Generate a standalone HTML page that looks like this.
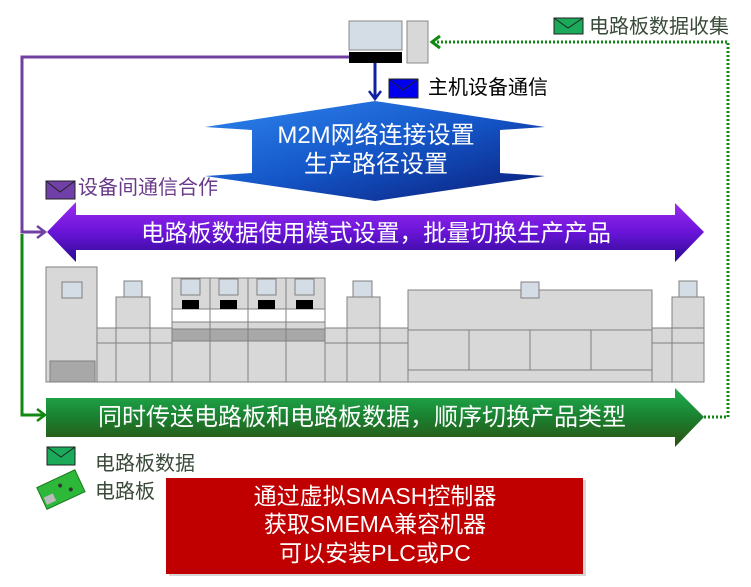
<!DOCTYPE html>
<html><head><meta charset="utf-8"><style>
html,body{margin:0;padding:0;background:#fff;width:751px;height:587px;overflow:hidden}
svg text{font-family:"Liberation Sans","Noto Sans CJK SC",sans-serif}
</style></head><body>
<svg width="751" height="587" viewBox="0 0 751 587" xmlns="http://www.w3.org/2000/svg">
<defs>
<linearGradient id="gb" x1="0" y1="0" x2="1" y2="1"><stop offset="0" stop-color="#2f86ef"/><stop offset="0.5" stop-color="#1456c8"/><stop offset="1" stop-color="#0a1c78"/></linearGradient>
<linearGradient id="gp" x1="0" y1="0" x2="0" y2="1"><stop offset="0" stop-color="#9a2cf0"/><stop offset="0.5" stop-color="#6a14d8"/><stop offset="1" stop-color="#2a0a90"/></linearGradient>
<linearGradient id="gg" x1="0" y1="0" x2="0" y2="1"><stop offset="0" stop-color="#20b050"/><stop offset="0.5" stop-color="#1a8030"/><stop offset="1" stop-color="#2d5010"/></linearGradient>
</defs>
<rect x="349" y="21" width="53" height="29" fill="#d4dce6" stroke="#888" stroke-width="1"/>
<rect x="349" y="52" width="53" height="11" fill="#000"/>
<rect x="407" y="21" width="21" height="42" fill="#d8d8d8" stroke="#888" stroke-width="1"/>
<polyline points="349,57 22,57 22,232 44,232" fill="none" stroke="#7040a0" stroke-width="3"/>
<polyline points="37,226 45,232 37,238" fill="none" stroke="#7040a0" stroke-width="2.5"/>
<polyline points="22,234 22,415 44,415" fill="none" stroke="#118811" stroke-width="3"/>
<polyline points="37,409 45,415 37,421" fill="none" stroke="#118811" stroke-width="2.5"/>
<polyline points="704,417 728,417 728,42 433,42" fill="none" stroke="#118811" stroke-width="3" stroke-dasharray="2,2"/>
<polyline points="440,36 432,42 440,48" fill="none" stroke="#118811" stroke-width="3"/>
<line x1="375" y1="63" x2="375" y2="98" stroke="#1020a0" stroke-width="3"/>
<polyline points="369,91 375,99 381,91" fill="none" stroke="#1020a0" stroke-width="2.5"/>
<g stroke="#222" stroke-width="1">
<rect x="389" y="79" width="29" height="19" fill="#0000ee"/><polyline points="389,79 403,90 418,79" fill="none"/>
<rect x="554" y="18" width="29" height="16" fill="#1aaa5a"/><polyline points="554,18 568,28 583,18" fill="none"/>
<rect x="46" y="181" width="29" height="18" fill="#7040a8"/><polyline points="46,181 60,192 75,181" fill="none"/>
<rect x="47" y="447" width="28" height="18" fill="#1aaa5a"/><polyline points="47,447 61,457 75,447" fill="none"/>
</g>
<text x="428" y="94" font-size="20" fill="#000">主机设备通信</text>
<text x="589" y="33" font-size="20" fill="#3a4a3a">电路板数据收集</text>
<text x="78" y="194" font-size="20" fill="#6a3a8a">设备间通信合作</text>
<polygon points="375,101 545,127 500,130 500,173 545,176 375,201 205,176 252,173 252,130 205,127" fill="url(#gb)"/>
<text x="376" y="143" font-size="24" fill="#fff" text-anchor="middle">M2M网络连接设置</text>
<text x="376" y="172" font-size="24" fill="#fff" text-anchor="middle">生产路径设置</text>
<polygon points="47,232 76,202 76,215 675,215 675,203 704,232 675,262 675,250 76,250 76,262" fill="url(#gp)"/>
<text x="376" y="241" font-size="23.5" fill="#fff" text-anchor="middle">电路板数据使用模式设置，批量切换生产产品</text>
<g fill="#d8d8d8" stroke="#808080" stroke-width="1">
<rect x="97" y="328" width="75" height="54"/><line x1="97" y1="343" x2="172" y2="343"/>
<rect x="325" y="328" width="83" height="54"/><line x1="325" y1="343" x2="408" y2="343"/>
<rect x="652" y="328" width="20" height="54"/><line x1="652" y1="343" x2="672" y2="343"/>
<rect x="46" y="267" width="51" height="115"/>
<rect x="62" y="282" width="20" height="16" fill="#d4dce6"/>
<rect x="50" y="361" width="45" height="21" fill="#a8a8a8"/>
<rect x="116" y="297" width="34" height="85"/><line x1="116" y1="343" x2="150" y2="343"/><line x1="116" y1="328" x2="150" y2="328"/>
<rect x="124" y="281" width="18" height="16" fill="#d4dce6"/>
<rect x="172" y="278" width="153" height="104"/>
<rect x="172" y="309" width="153" height="13" fill="#fff"/>
<rect x="172" y="329" width="153" height="12" fill="#a8a8a8"/>
<line x1="210" y1="278" x2="210" y2="382"/><line x1="248" y1="278" x2="248" y2="382"/><line x1="286" y1="278" x2="286" y2="382"/>
<rect x="347" y="297" width="33" height="85"/><line x1="347" y1="343" x2="380" y2="343"/><line x1="347" y1="328" x2="380" y2="328"/>
<rect x="353" y="281" width="19" height="16" fill="#d4dce6"/>
<rect x="408" y="290" width="244" height="92"/>
<line x1="408" y1="330" x2="652" y2="330"/><line x1="408" y1="370" x2="652" y2="370"/>
<line x1="469" y1="330" x2="469" y2="370"/><line x1="530" y1="330" x2="530" y2="370"/><line x1="591" y1="330" x2="591" y2="370"/>
<rect x="521" y="282" width="18" height="16" fill="#d4dce6"/>
<rect x="672" y="297" width="32" height="85"/><line x1="672" y1="343" x2="704" y2="343"/><line x1="672" y1="328" x2="704" y2="328"/>
<rect x="679" y="281" width="18" height="16" fill="#d4dce6"/>
</g>
<g fill="#d4dce6" stroke="#808080">
<rect x="181" y="279" width="19" height="16"/><rect x="219" y="279" width="19" height="16"/><rect x="257" y="279" width="19" height="16"/><rect x="295" y="279" width="19" height="16"/>
</g>
<g fill="#000">
<rect x="182" y="300" width="17" height="9"/><rect x="220" y="300" width="17" height="9"/><rect x="258" y="300" width="17" height="9"/><rect x="296" y="300" width="17" height="9"/>
</g>
<polygon points="46,398 675,398 675,388 704,417 675,447 675,437 46,437" fill="url(#gg)"/>
<text x="362" y="425" font-size="24" fill="#fff" text-anchor="middle">同时传送电路板和电路板数据，顺序切换产品类型</text>
<text x="95" y="470" font-size="20" fill="#3a4a3a">电路板数据</text>
<text x="95" y="498" font-size="20" fill="#3a4a3a">电路板</text>
<g transform="rotate(-25 60 490)">
<rect x="40" y="478" width="42" height="24" fill="#2eb83a" stroke="#1a7a20"/>
<rect x="42" y="490" width="10" height="8" fill="#bbb"/>
<circle cx="62" cy="486" r="2" fill="#333"/><circle cx="70" cy="494" r="2" fill="#333"/>
</g>
<rect x="169" y="480" width="417" height="96" fill="#999" opacity="0.4"/>
<rect x="166" y="478" width="417" height="96" fill="#c00000"/>
<text x="375" y="504" font-size="23" fill="#fff" text-anchor="middle">通过虚拟SMASH控制器</text>
<text x="375" y="532" font-size="23" fill="#fff" text-anchor="middle">获取SMEMA兼容机器</text>
<text x="375" y="561" font-size="23" fill="#fff" text-anchor="middle">可以安装PLC或PC</text>
</svg>
</body></html>
